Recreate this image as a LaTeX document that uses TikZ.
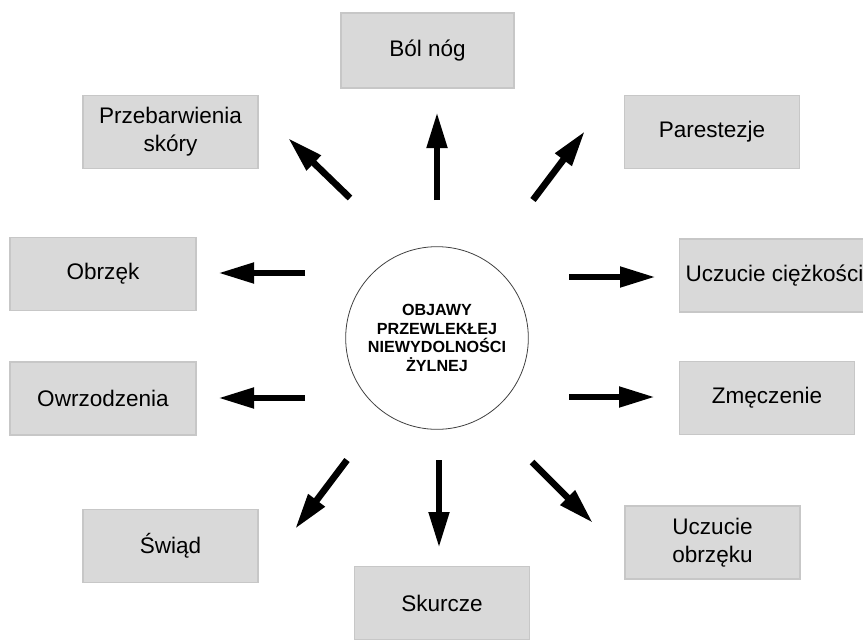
\documentclass[tikz,border=0pt]{standalone}
\usepackage{fontspec}
\setmainfont{Liberation Sans}
\usetikzlibrary{arrows.meta}
\tikzset{
  box/.style = {rectangle, draw=black!22, fill=black!15, line width=1.1pt, minimum width=131pt, minimum height=55pt, align=center, inner sep=3pt, font=\fontsize{16.9}{21}\selectfont},
  hub/.style = {circle, draw=black!75, line width=0.6pt, minimum size=137pt, align=center, inner sep=0pt, font=\fontsize{12.1}{13.9}\selectfont\bfseries},
  arrow/.style = {draw, line width=5pt, -{Triangle[length=27pt, width=14.5pt]}},
}

\begin{document}
\begin{tikzpicture}[x=0.75pt, y=-0.75pt]

  \useasboundingbox (0,0) rectangle (863,639);

  \node (hub) [hub] at (437,338) {OBJAWY\\ PRZEWLEKŁEJ\\ NIEWYDOLNOŚCI\\ ŻYLNEJ};

  \node (bol) [box, minimum width=130pt, minimum height=56pt] at (427.5,50.5) {Ból nóg};
  \node (przeb) [box] at (170.5,132) {Przebarwienia\\ skóry};
  \node (parest) [box] at (712,132) {Parestezje};
  \node (obrzek) [box, minimum width=139.5pt] at (103,274) {Obrzęk};
  \node (ciezk) [box, anchor=west, minimum width=142pt] at (679,275.5) {Uczucie ciężkości};
  \node (owrz) [box, minimum width=139.5pt] at (103,398.5) {Owrzodzenia};
  \node (zmecz) [box] at (767,398) {Zmęczenie};
  \node (swiad) [box] at (170.5,546) {Świąd};
  \node (skurcze) [box] at (442,603) {Skurcze};
  \node (uczobrz) [box] at (712.5,542.5) {Uczucie\\ obrzęku};

  % arrow ends (free, between hub and boxes)
  \coordinate (bol-s) at (437,200);     \coordinate (bol-e) at (437,112);
  \coordinate (przeb-s) at (350,198);   \coordinate (przeb-e) at (288,138);
  \coordinate (parest-s) at (533,200);  \coordinate (parest-e) at (585,131);
  \coordinate (obrzek-s) at (305,273);  \coordinate (obrzek-e) at (218,273);
  \coordinate (ciezk-s) at (569,277);   \coordinate (ciezk-e) at (656,277);
  \coordinate (owrz-s) at (305,398);    \coordinate (owrz-e) at (218,398);
  \coordinate (zmecz-s) at (569,397);   \coordinate (zmecz-e) at (655,397);
  \coordinate (swiad-s) at (347,460);   \coordinate (swiad-e) at (295,529);
  \coordinate (skurcze-s) at (439,460); \coordinate (skurcze-e) at (439,548);
  \coordinate (uczobrz-s) at (532,462); \coordinate (uczobrz-e) at (593,523);

  \draw [arrow] (bol-s) -- (bol-e);
  \draw [arrow] (przeb-s) -- (przeb-e);
  \draw [arrow] (parest-s) -- (parest-e);
  \draw [arrow] (obrzek-s) -- (obrzek-e);
  \draw [arrow] (ciezk-s) -- (ciezk-e);
  \draw [arrow] (owrz-s) -- (owrz-e);
  \draw [arrow] (zmecz-s) -- (zmecz-e);
  \draw [arrow] (swiad-s) -- (swiad-e);
  \draw [arrow] (skurcze-s) -- (skurcze-e);
  \draw [arrow] (uczobrz-s) -- (uczobrz-e);

\end{tikzpicture}
\end{document}
